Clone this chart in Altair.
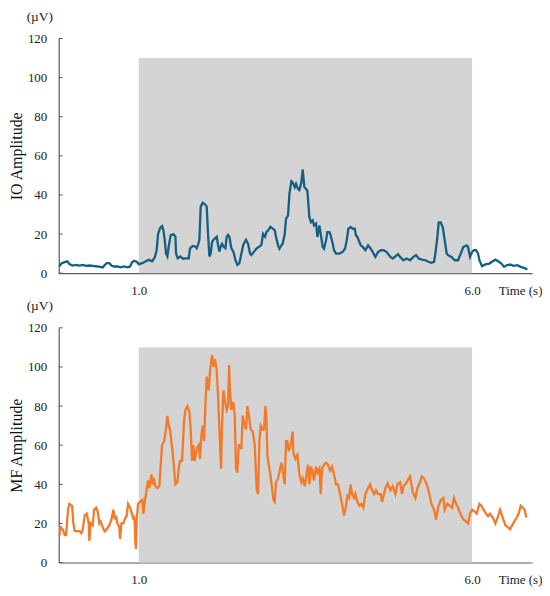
import altair as alt
import pandas as pd

# ---- data ----
io_t = [-0.19, -0.16, -0.11, -0.07, -0.04, 0.01, 0.06, 0.11, 0.16, 0.21, 0.26, 0.31, 0.385, 0.46, 0.49,
        0.52, 0.56, 0.59, 0.63, 0.68, 0.73, 0.78, 0.83, 0.87, 0.90, 0.93, 0.97, 1.00, 1.055, 1.10,
        1.15, 1.20, 1.24, 1.27, 1.29, 1.32, 1.35, 1.37, 1.39, 1.41, 1.43, 1.45, 1.48, 1.52, 1.55,
        1.56, 1.585, 1.625, 1.665, 1.70, 1.75, 1.77, 1.81, 1.85, 1.87, 1.89, 1.91, 1.93, 1.96, 2.00,
        2.02, 2.04, 2.06, 2.08, 2.10, 2.12, 2.145, 2.17, 2.19, 2.21, 2.23, 2.25, 2.27, 2.30, 2.32,
        2.34, 2.36, 2.39, 2.42, 2.45, 2.48, 2.51, 2.54, 2.57, 2.61, 2.64, 2.67, 2.69, 2.73, 2.77,
        2.81, 2.84, 2.865, 2.895, 2.915, 2.945, 2.975, 3.00, 3.04, 3.06, 3.09, 3.11, 3.14, 3.16, 3.19,
        3.21, 3.24, 3.26, 3.29, 3.31, 3.34, 3.36, 3.39, 3.41, 3.44, 3.46, 3.485, 3.51, 3.53, 3.56,
        3.585, 3.61, 3.63, 3.66, 3.68, 3.71, 3.73, 3.76, 3.78, 3.81, 3.83, 3.86, 3.88, 3.91, 3.93,
        3.96, 4.01, 4.055, 4.095, 4.12, 4.145, 4.18, 4.21, 4.24, 4.26, 4.28, 4.30, 4.33, 4.36, 4.40,
        4.44, 4.48, 4.51, 4.55, 4.59, 4.63, 4.675, 4.72, 4.775, 4.81, 4.85, 4.89, 4.92, 4.97, 5.02,
        5.07, 5.12, 5.16, 5.20, 5.245, 5.30, 5.345, 5.39, 5.43, 5.45, 5.48, 5.50, 5.53, 5.56, 5.59,
        5.62, 5.64, 5.69, 5.74, 5.79, 5.83, 5.87, 5.92, 5.94, 5.97, 6.00, 6.025, 6.06, 6.09, 6.11,
        6.15, 6.21, 6.26, 6.31, 6.35, 6.39, 6.44, 6.48, 6.525, 6.57, 6.62, 6.68, 6.73, 6.78, 6.83]
io_v = [3.4, 5.0, 5.6, 6.0, 4.6, 3.9, 4.2, 3.9, 4.2, 3.7, 3.9, 3.7, 3.4, 2.9, 4.2,
        5.1, 5.1, 3.9, 3.4, 3.4, 3.0, 3.4, 3.0, 3.4, 5.6, 6.3, 5.8, 4.6, 5.1, 6.0,
        6.8, 6.0, 8.0, 12.0, 20.0, 23.0, 24.0, 22.0, 17.0, 10.0, 8.5, 13.6, 19.5, 20.0, 18.6,
        10.0, 7.6, 8.5, 7.3, 7.6, 7.6, 12.7, 13.9, 13.6, 12.7, 14.4, 17.0, 34.0, 36.0, 35.0,
        34.0, 20.0, 8.5, 10.0, 16.0, 17.0, 17.8, 18.6, 14.4, 11.0, 13.6, 15.0, 13.6, 12.7, 18.6,
        19.5, 18.6, 12.7, 11.0, 6.8, 4.2, 5.1, 10.0, 14.7, 17.0, 15.0, 10.0, 9.3, 11.0, 12.7,
        13.6, 14.4, 20.0, 18.6, 21.0, 22.0, 23.7, 23.0, 22.0, 18.5, 14.2, 12.5, 14.2, 15.0, 20.0,
        27.8, 29.5, 40.5, 47.0, 46.4, 43.9, 45.6, 43.0, 42.5, 46.4, 53.0, 43.9, 43.0, 42.0, 28.6,
        26.0, 27.0, 24.4, 25.3, 18.5, 24.4, 20.0, 13.4, 12.5, 16.8, 21.0, 21.0, 19.3, 15.0, 11.7,
        10.0, 10.0, 10.8, 12.5, 16.8, 22.7, 23.6, 22.7, 22.7, 19.3, 18.5, 16.8, 14.2, 13.4, 11.7,
        14.2, 12.5, 10.8, 8.3, 10.8, 11.7, 11.7, 10.8, 8.3, 7.5, 8.6, 9.7, 8.3, 6.6, 7.5,
        6.6, 8.3, 9.2, 7.5, 6.9, 6.6, 5.8, 5.3, 5.8, 10.0, 18.5, 26.0, 26.0, 23.6, 16.8,
        10.0, 9.2, 8.3, 6.6, 6.6, 10.0, 13.4, 14.2, 13.4, 8.3, 10.8, 11.7, 11.7, 10.0, 6.6,
        3.6, 4.6, 4.9, 6.1, 6.9, 6.1, 4.9, 3.2, 4.1, 4.4, 3.7, 4.1, 3.2, 2.7, 1.9]

mf_t = [-0.19, -0.17, -0.14, -0.11, -0.09, -0.06, -0.04, 0.00, 0.02, 0.04, 0.11, 0.14, 0.16, 0.19, 0.22,
        0.25, 0.26, 0.28, 0.31, 0.33, 0.36, 0.385, 0.41, 0.43, 0.46, 0.49, 0.52, 0.56, 0.59, 0.62,
        0.64, 0.66, 0.68, 0.71, 0.72, 0.74, 0.77, 0.79, 0.82, 0.84, 0.87, 0.89, 0.92, 0.93, 0.94,
        0.95, 0.96, 0.97, 0.99, 1.02, 1.055, 1.07, 1.09, 1.11, 1.13, 1.14, 1.16, 1.19, 1.21, 1.23,
        1.25, 1.28, 1.31, 1.33, 1.35, 1.38, 1.40, 1.43, 1.45, 1.47, 1.49, 1.51, 1.53, 1.55, 1.58,
        1.60, 1.62, 1.65, 1.68, 1.70, 1.73, 1.76, 1.78, 1.80, 1.82, 1.84, 1.87, 1.90, 1.92, 1.94,
        1.96, 1.98, 2.00, 2.02, 2.05, 2.07, 2.10, 2.12, 2.145, 2.17, 2.19, 2.22, 2.235, 2.25, 2.27,
        2.295, 2.32, 2.34, 2.355, 2.37, 2.39, 2.42, 2.44, 2.46, 2.48, 2.50, 2.52, 2.54, 2.56, 2.58,
        2.61, 2.63, 2.65, 2.68, 2.71, 2.74, 2.77, 2.79, 2.81, 2.83, 2.86, 2.88, 2.90, 2.915, 2.93,
        2.95, 2.975, 3.00, 3.02, 3.04, 3.06, 3.09, 3.11, 3.14, 3.16, 3.19, 3.21, 3.23, 3.25, 3.28,
        3.31, 3.32, 3.35, 3.38, 3.41, 3.44, 3.46, 3.49, 3.52, 3.54, 3.56, 3.585, 3.61, 3.63, 3.66,
        3.68, 3.71, 3.73, 3.75, 3.78, 3.81, 3.84, 3.87, 3.90, 3.93, 3.96, 3.99, 4.02, 4.05, 4.08,
        4.105, 4.13, 4.155, 4.18, 4.20, 4.23, 4.25, 4.28, 4.31, 4.34, 4.37, 4.40, 4.44, 4.47, 4.50,
        4.53, 4.56, 4.59, 4.63, 4.65, 4.70, 4.735, 4.775, 4.81, 4.85, 4.88, 4.92, 4.95, 4.97, 5.01,
        5.05, 5.07, 5.11, 5.15, 5.18, 5.22, 5.245, 5.28, 5.32, 5.36, 5.39, 5.43, 5.46, 5.49, 5.53,
        5.57, 5.59, 5.63, 5.67, 5.70, 5.73, 5.76, 5.79, 5.83, 5.87, 5.91, 5.94, 5.97, 6.00, 6.04,
        6.07, 6.11, 6.14, 6.17, 6.21, 6.24, 6.27, 6.31, 6.35, 6.39, 6.42, 6.46, 6.50, 6.54, 6.57,
        6.60, 6.635, 6.67, 6.70, 6.73, 6.76, 6.79, 6.81, 6.82]
mf_v = [13.5, 18, 17, 14, 14, 27, 30, 29, 20, 16, 16, 15, 17, 24, 25,
        20, 11, 20, 19, 27, 28, 26, 20, 21, 18, 16, 17, 19, 22, 27,
        22, 24, 20, 18, 12, 20, 20, 22, 24, 30, 28, 26, 22, 24, 20,
        10, 7, 22, 30, 31, 32, 25, 31, 35, 40, 42, 38, 45, 40, 42,
        39, 38, 39, 50, 60, 62, 66, 75, 70, 68, 62, 56, 48, 40, 41,
        48, 52, 52, 72, 78, 80, 77, 68, 52, 60, 52, 58, 60, 53, 65,
        70, 62, 80, 95, 88, 98, 106, 100, 104, 98, 85, 60, 48, 70, 88,
        82, 78, 80, 101, 88, 78, 82, 75, 48, 46, 60, 60, 58, 75, 72,
        68, 80, 76, 68, 67, 60, 37, 35, 62, 70, 68, 68, 80, 75, 55,
        50, 45, 38, 32, 31, 41, 43, 46, 51, 47, 40, 62, 62, 57, 60,
        67, 56, 53, 55, 45, 41, 43, 39, 46, 50, 40, 49, 46, 42, 49,
        46, 48, 35, 48, 50, 51, 50, 47, 49, 45, 40, 40, 35, 30, 24,
        28, 34, 33, 40, 35, 33, 35, 31, 29, 30, 28, 35, 38, 40, 37,
        35, 37, 35, 35, 31, 38, 40.5, 37, 39, 35, 40, 41, 35, 39, 40.5,
        43, 44, 36, 33, 38, 41, 44, 43, 40, 35, 30, 27, 22, 28, 32,
        33, 27, 30, 29, 28, 33, 30, 28, 24.5, 22, 21, 20, 25, 27, 26,
        25, 30, 29, 27, 25, 23.6, 25, 23, 20, 23.6, 27, 23, 19, 18, 17,
        19, 21, 23, 25, 29, 28, 27, 23.6, 23]

x_tick_values = [1.0, 6.0]
y_tick_values = [0, 20, 40, 60, 80, 100, 120]
unit_label = ["(µV)"]
stim_start, stim_end, stim_top = 1.0, 6.0, 110
x_domain = [-0.2, 6.9]
y_domain = [0, 120]

FONT = "Liberation Serif"
AXIS_COLOR = "#5a5a5a"
W, H = 476, 236

io_df = pd.DataFrame({"t": io_t, "v": io_v})
mf_df = pd.DataFrame({"t": mf_t, "v": mf_v})
stim_df = pd.DataFrame({"t0": [stim_start], "t1": [stim_end], "y0": [0], "y1": [stim_top]})
tick_df = pd.DataFrame({"v": y_tick_values})
unit_df = pd.DataFrame({"u": unit_label})


def panel(df, color, ytitle):
    xs = alt.Scale(domain=x_domain, nice=False, zero=False)
    ys = alt.Scale(domain=y_domain, nice=False)
    xaxis = alt.Axis(values=x_tick_values, format=".1f", ticks=False, grid=False,
                     labelPadding=11, labelFont=FONT, labelFontSize=13, labelColor="#222",
                     domainColor=AXIS_COLOR, domainWidth=1.2, labelOverlap=False,
                     title="Time (s)", titleFont=FONT, titleFontSize=13, titleFontWeight="normal",
                     titleColor="#222", titleX=464, titleY=11, titleAlign="center",
                     titleBaseline="top", labelFlush=False)
    yaxis = alt.Axis(values=y_tick_values, tickCount=7, ticks=False, grid=False, labelPadding=12,
                     labelFont=FONT, labelFontSize=13, labelColor="#222", labelOverlap=False,
                     labelFlush=False, labelSeparation=0,
                     domainColor=AXIS_COLOR, domainWidth=1.2,
                     title=ytitle, titleFont=FONT, titleFontSize=16, titleFontWeight="normal",
                     titleColor="#111", titlePadding=3)
    rect = alt.Chart(stim_df).mark_rect(color="#d4d4d4").encode(
        x=alt.X("t0:Q", scale=xs, axis=xaxis), x2="t1:Q",
        y=alt.Y("y0:Q", scale=ys, axis=yaxis), y2="y1:Q")
    ticks = alt.Chart(tick_df).mark_rule(color=AXIS_COLOR, strokeWidth=1).encode(
        y=alt.Y("v:Q", scale=ys, axis=yaxis), x=alt.value(0), x2=alt.value(4))
    line = alt.Chart(df).mark_line(color=color, strokeWidth=2.3, interpolate="linear").encode(
        x=alt.X("t:Q", scale=xs, axis=xaxis), y=alt.Y("v:Q", scale=ys, axis=yaxis))
    unit = alt.Chart(unit_df).mark_text(font=FONT, fontSize=13.5, color="#222",
                                        align="center", baseline="alphabetic").encode(
        text="u:N", x=alt.value(-19), y=alt.value(-18))
    return alt.layer(rect, ticks, line, unit).properties(width=W, height=H)


top = panel(io_df, "#156082", "IO Amplitude")
bottom = panel(mf_df, "#F27B2B", "MF Amplitude")

chart = alt.vconcat(top, bottom, spacing=2, padding=0).configure_view(stroke=None)

chart.save("out.html", embed_options={"renderer": "svg", "actions": False})
